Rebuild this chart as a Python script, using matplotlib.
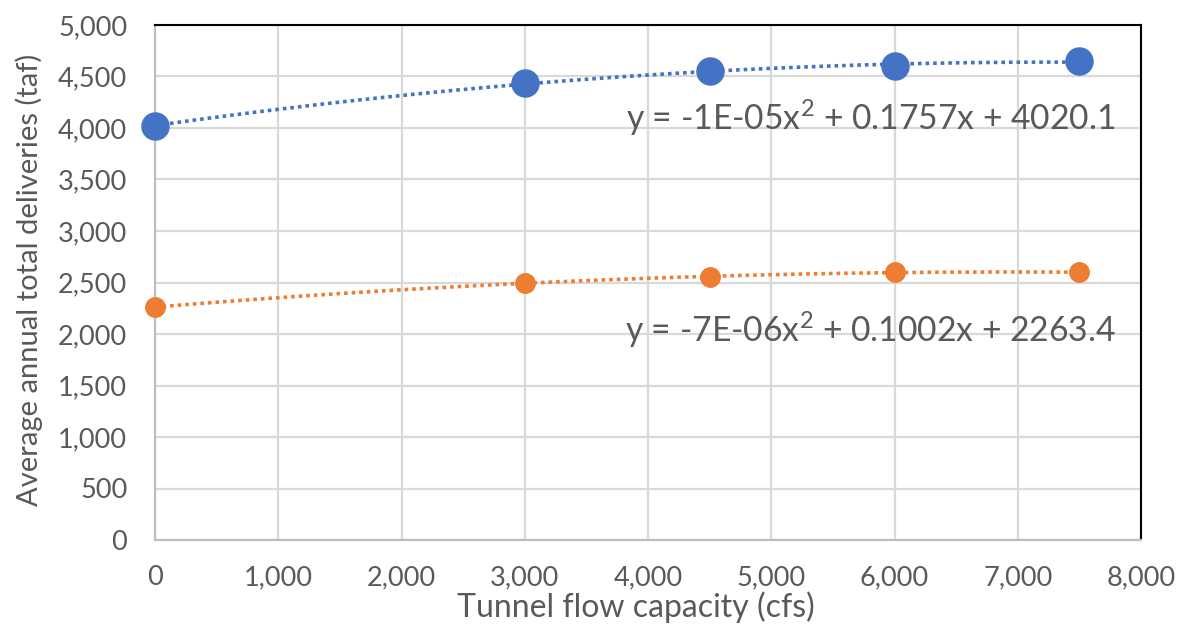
import numpy as np
import matplotlib
matplotlib.use("Agg")
import matplotlib.pyplot as plt
from matplotlib.ticker import FuncFormatter, MultipleLocator

capacity = [0, 3000, 4500, 6000, 7500]
blue_vals = [4020, 4440, 4550, 4600, 4650]
orange_vals = [2260, 2500, 2550, 2600, 2600]
blue_eq = "y = -1E-05x$^2$ + 0.1757x + 4020.1"
orange_eq = "y = -7E-06x$^2$ + 0.1002x + 2263.4"
x_label = "Tunnel flow capacity (cfs)"
y_label = "Average annual total deliveries (taf)"

plt.rcParams['font.family'] = ['Lato', 'DejaVu Sans']
plt.rcParams['mathtext.fontset'] = 'custom'
plt.rcParams['mathtext.rm'] = 'Lato'

W, H = 1183, 626
fig = plt.figure(figsize=(W / 100, H / 100), dpi=100)
left, right, top, bottom = 155, 1141, 25, 540
ax = fig.add_axes([left / W, 1 - bottom / H, (right - left) / W, (bottom - top) / H])

blue = '#4472C4'
orange = '#ED7D31'
gray_txt = '#595959'
xs = np.linspace(0, 7500, 300)
for vals, col, ms in [(blue_vals, blue, 19.5), (orange_vals, orange, 14)]:
    coef = np.polyfit(capacity, vals, 2)
    ln, = ax.plot(xs, np.polyval(coef, xs), color=col, lw=2.6, zorder=3,
                  linestyle=(0, (1.0, 1.1)))
    ln.set_dash_capstyle('butt')
    ax.plot(capacity, vals, 'o', color=col, ms=ms, zorder=4, clip_on=False)

ax.set_xlim(0, 8000)
ax.set_ylim(0, 5000)
ax.xaxis.set_major_locator(MultipleLocator(1000))
ax.yaxis.set_major_locator(MultipleLocator(500))
fmt = FuncFormatter(lambda v, p: f"{int(v):,}")
ax.xaxis.set_major_formatter(fmt)
ax.yaxis.set_major_formatter(fmt)
ax.grid(True, color='#D9D9D9', lw=1.6)
ax.set_axisbelow(True)
for s in ['left', 'bottom']:
    ax.spines[s].set_color('#BFBFBF')
    ax.spines[s].set_linewidth(1.6)
for s in ['right', 'top']:
    ax.spines[s].set_color('black')
    ax.spines[s].set_linewidth(1.5)
ax.tick_params(length=0, labelsize=19.5, colors=gray_txt)
ax.tick_params(axis='x', pad=18)
ax.tick_params(axis='y', pad=20)

fig.text(636 / W, 1 - 617 / H, x_label, fontsize=23, color=gray_txt,
         ha='center', va='baseline')
fig.text(29 / W, 1 - 280 / H, y_label, fontsize=21, color=gray_txt,
         ha='center', va='center', rotation=90)

ax.text(7795, 3980, blue_eq, fontsize=24.2, color=gray_txt, ha='right', va='baseline')
ax.text(7795, 1925, orange_eq, fontsize=24.2, color=gray_txt, ha='right', va='baseline')

fig.savefig("out.png", dpi=100)
